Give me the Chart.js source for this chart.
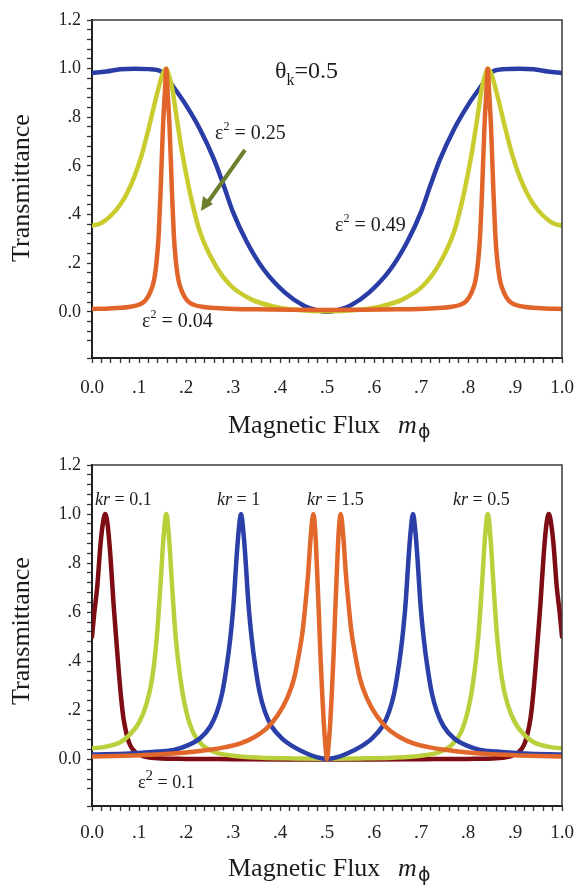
<!DOCTYPE html>
<html>
<head>
<meta charset="utf-8">
<script src="https://cdn.jsdelivr.net/npm/chart.js@4.4.1/dist/chart.umd.min.js"></script>
<style>
    html, body { margin: 0; padding: 0; background: #fff; }
    .box { position: absolute; left: 0; width: 577px; height: 443px; }
    #top { top: 0; }
    #bot { top: 443px; }
</style>
</head>
<body>
<div class="box" id="top"><canvas id="c1"></canvas></div>
<div class="box" id="bot"><canvas id="c2"></canvas></div>
<script>
// ---- top panel: theta_k = 0.5 ----
const topBlueX = [0, 0.03, 0.06, 0.09, 0.12, 0.15, 0.175, 0.2, 0.23, 0.26, 0.28, 0.3, 0.33, 0.365, 0.41, 0.45, 0.48, 0.5,
    0.52, 0.55, 0.59, 0.635, 0.67, 0.7, 0.72, 0.74, 0.77, 0.8, 0.825, 0.85, 0.88, 0.91, 0.94, 0.97, 1.0];
const topBlueY = [0.982, 0.988, 0.997, 1.0, 0.998, 0.985, 0.92, 0.85, 0.75, 0.625, 0.52, 0.41, 0.285, 0.175, 0.08, 0.026, 0.006, 0,
    0.006, 0.026, 0.08, 0.175, 0.285, 0.41, 0.52, 0.625, 0.75, 0.85, 0.92, 0.985, 0.998, 1.0, 0.997, 0.988, 0.982];

const topYellowX = [0, 0.02, 0.04, 0.06, 0.075, 0.09, 0.105, 0.12, 0.135, 0.145, 0.152, 0.158, 0.164, 0.171, 0.18, 0.19, 0.2, 0.213, 0.23, 0.26, 0.295, 0.34, 0.39, 0.44, 0.5,
    0.56, 0.61, 0.66, 0.705, 0.74, 0.77, 0.787, 0.8, 0.81, 0.82, 0.829, 0.836, 0.842, 0.848, 0.855, 0.865, 0.88, 0.895, 0.91, 0.925, 0.94, 0.96, 0.98, 1.0];
const topYellowY = [0.354, 0.365, 0.395, 0.44, 0.49, 0.555, 0.64, 0.75, 0.87, 0.945, 0.985, 1.0, 0.97, 0.915, 0.8, 0.675, 0.57, 0.45, 0.327, 0.2, 0.108, 0.05, 0.02, 0.007, 0.002,
    0.007, 0.02, 0.05, 0.108, 0.2, 0.327, 0.45, 0.57, 0.675, 0.8, 0.915, 0.97, 1.0, 0.985, 0.945, 0.87, 0.75, 0.64, 0.555, 0.49, 0.44, 0.395, 0.365, 0.354];

const topOrangeX = [0, 0.038, 0.078, 0.098, 0.113, 0.124, 0.132, 0.138, 0.142, 0.146, 0.151, 0.155, 0.158, 0.161, 0.165, 0.17, 0.174, 0.178, 0.184, 0.192, 0.203, 0.218, 0.238, 0.28, 0.35, 0.42, 0.5,
    0.58, 0.65, 0.72, 0.762, 0.782, 0.797, 0.808, 0.816, 0.822, 0.826, 0.83, 0.835, 0.839, 0.842, 0.845, 0.849, 0.854, 0.858, 0.862, 0.868, 0.876, 0.887, 0.902, 0.922, 0.962, 1.0];
const topOrangeY = [0.012, 0.014, 0.02, 0.028, 0.045, 0.081, 0.13, 0.217, 0.32, 0.5, 0.76, 0.9, 1.0, 0.9, 0.76, 0.5, 0.32, 0.217, 0.13, 0.081, 0.045, 0.028, 0.02, 0.014, 0.01, 0.008, 0.007,
    0.008, 0.01, 0.014, 0.02, 0.028, 0.045, 0.081, 0.13, 0.217, 0.32, 0.5, 0.76, 0.9, 1.0, 0.9, 0.76, 0.5, 0.32, 0.217, 0.13, 0.081, 0.045, 0.028, 0.02, 0.014, 0.012];

// ---- bottom panel: eps^2 = 0.1, different kr ----
const botRedX = [0, 0.005, 0.011, 0.018, 0.023, 0.028, 0.033, 0.039, 0.046, 0.052, 0.057, 0.062, 0.067, 0.074, 0.081, 0.092, 0.11, 0.14, 0.2, 0.3, 0.4, 0.5,
    0.6, 0.7, 0.8, 0.86, 0.89, 0.908, 0.919, 0.926, 0.933, 0.938, 0.943, 0.948, 0.954, 0.961, 0.967, 0.972, 0.977, 0.982, 0.989, 0.995, 1.0];
const botRedY = [0.5, 0.6, 0.7, 0.875, 0.96, 1.0, 0.96, 0.834, 0.63, 0.48, 0.358, 0.25, 0.167, 0.1, 0.058, 0.03, 0.012, 0.005, 0.002, 0.001, 0, 0,
    0, 0.001, 0.002, 0.005, 0.012, 0.03, 0.058, 0.1, 0.167, 0.25, 0.358, 0.48, 0.63, 0.834, 0.96, 1.0, 0.96, 0.875, 0.7, 0.6, 0.5];

const botGreenX = [0, 0.03, 0.06, 0.08, 0.1, 0.115, 0.128, 0.138, 0.146, 0.152, 0.158, 0.164, 0.17, 0.178, 0.188, 0.2, 0.215, 0.235, 0.26, 0.3, 0.36, 0.43, 0.5,
    0.57, 0.64, 0.7, 0.74, 0.765, 0.785, 0.8, 0.812, 0.822, 0.83, 0.836, 0.842, 0.848, 0.854, 0.862, 0.872, 0.885, 0.9, 0.92, 0.94, 0.97, 1.0];
const botGreenY = [0.045, 0.052, 0.07, 0.1, 0.15, 0.22, 0.33, 0.5, 0.72, 0.9, 1.0, 0.9, 0.72, 0.5, 0.33, 0.2, 0.11, 0.058, 0.03, 0.015, 0.007, 0.004, 0.003,
    0.004, 0.007, 0.015, 0.03, 0.058, 0.11, 0.2, 0.33, 0.5, 0.72, 0.9, 1.0, 0.9, 0.72, 0.5, 0.33, 0.22, 0.15, 0.1, 0.07, 0.052, 0.045];

const botBlueX = [0, 0.08, 0.14, 0.174, 0.202, 0.23, 0.252, 0.266, 0.277, 0.287, 0.294, 0.301, 0.308, 0.312, 0.317, 0.322, 0.326, 0.333, 0.34, 0.347, 0.357, 0.368, 0.382, 0.404, 0.43, 0.457, 0.48, 0.5,
    0.52, 0.543, 0.57, 0.596, 0.618, 0.632, 0.643, 0.653, 0.66, 0.667, 0.674, 0.678, 0.683, 0.688, 0.692, 0.699, 0.706, 0.713, 0.723, 0.734, 0.748, 0.77, 0.798, 0.826, 0.86, 0.92, 1.0];
const botBlueY = [0.02, 0.024, 0.032, 0.038, 0.056, 0.086, 0.135, 0.194, 0.27, 0.385, 0.49, 0.63, 0.834, 0.93, 1.0, 0.93, 0.834, 0.63, 0.49, 0.385, 0.27, 0.194, 0.135, 0.086, 0.05, 0.024, 0.008, 0.002,
    0.008, 0.024, 0.05, 0.086, 0.135, 0.194, 0.27, 0.385, 0.49, 0.63, 0.834, 0.93, 1.0, 0.93, 0.834, 0.63, 0.49, 0.385, 0.27, 0.194, 0.135, 0.086, 0.056, 0.038, 0.032, 0.024, 0.02];

const botOrangeX = [0, 0.07, 0.138, 0.2, 0.245, 0.285, 0.316, 0.345, 0.372, 0.395, 0.415, 0.43, 0.44, 0.448, 0.454, 0.46, 0.465, 0.471, 0.475, 0.479, 0.483, 0.486, 0.49, 0.493, 0.497, 0.5,
    0.503, 0.507, 0.51, 0.514, 0.517, 0.521, 0.525, 0.529, 0.535, 0.54, 0.546, 0.552, 0.56, 0.57, 0.585, 0.605, 0.628, 0.655, 0.684, 0.715, 0.755, 0.8, 0.862, 0.93, 1.0];
const botOrangeY = [0.012, 0.015, 0.02, 0.028, 0.038, 0.05, 0.065, 0.09, 0.127, 0.18, 0.249, 0.33, 0.426, 0.52, 0.63, 0.76, 0.9, 1.0, 0.93, 0.766, 0.58, 0.426, 0.26, 0.153, 0.05, 0,
    0.05, 0.153, 0.26, 0.426, 0.58, 0.766, 0.93, 1.0, 0.9, 0.76, 0.63, 0.52, 0.426, 0.33, 0.249, 0.18, 0.127, 0.09, 0.065, 0.05, 0.038, 0.028, 0.02, 0.015, 0.012];

const SERIF = '"Liberation Serif", "Times New Roman", serif';
const INK = '#1c1c1c';

const pts = (xs, ys) => xs.map((x, i) => ({ x: x, y: ys[i] }));
const line = (label, xs, ys, color) => ({ label, data: pts(xs, ys), borderColor: color, backgroundColor: color });

const xLabel = (value) => {
    const v = Math.round(value * 100);
    if (v % 10 !== 0) return '';
    if (v === 0) return '0.0';
    if (v === 100) return '1.0';
    return '.' + (v / 10);
};

const yLabel = (value) => {
    const v = Math.round(value * 100);
    if (v < 0 || v % 20 !== 0) return '';
    if (v === 0) return '0.0';
    if (v === 100) return '1.0';
    if (v === 120) return '1.2';
    return '.' + (v / 10);
};

// draws a run of text pieces left to right
function runs(ctx, x, y, parts) {
    parts.forEach(p => {
        ctx.font = p.font;
        ctx.fillText(p.t, x, y + (p.dy || 0));
        x += ctx.measureText(p.t).width;
    });
}

function drawTitles(ctx) {
    ctx.fillStyle = INK;
    ctx.save();
    ctx.translate(22, 188);
    ctx.rotate(-Math.PI / 2);
    ctx.textAlign = 'center';
    ctx.textBaseline = 'middle';
    ctx.font = '26px ' + SERIF;
    ctx.fillText('Transmittance', 0, 0);
    ctx.restore();

    ctx.textAlign = 'left';
    ctx.textBaseline = 'alphabetic';
    ctx.font = '26px ' + SERIF;
    ctx.fillText('Magnetic Flux', 228, 433);
    ctx.font = 'italic 26px ' + SERIF;
    ctx.fillText('m', 398, 433);
    ctx.font = '19px "DejaVu Sans", sans-serif';
    ctx.fillText('ϕ', 418, 438);
}

const framePlugin = {
    id: 'frame',
    afterDatasetsDraw(chart) {
        const { ctx, chartArea: a } = chart;
        ctx.save();
        ctx.strokeStyle = '#3a3a3a';
        ctx.lineWidth = 1.5;
        ctx.beginPath();
        ctx.moveTo(a.left, a.top);
        ctx.lineTo(a.right, a.top);
        ctx.lineTo(a.right, a.bottom);
        ctx.stroke();
        ctx.restore();
    }
};

function notesPlugin(draw) {
    return {
        id: 'notes',
        afterDraw(chart) {
            const ctx = chart.ctx;
            ctx.save();
            drawTitles(ctx);
            ctx.fillStyle = INK;
            ctx.textAlign = 'left';
            ctx.textBaseline = 'alphabetic';
            draw(ctx);
            ctx.restore();
        }
    };
}

function makeChart(id, datasets, cfg) {
    const tickFont = (size) => ({ family: SERIF, size: size });
    return new Chart(document.getElementById(id), {
        type: 'line',
        data: { datasets: datasets },
        options: {
            responsive: true,
            maintainAspectRatio: false,
            animation: false,
            layout: { padding: { top: cfg.top, right: 15, left: 0, bottom: 0 } },
            plugins: { legend: { display: false }, tooltip: { enabled: false } },
            elements: {
                point: { radius: 0 },
                line: { borderWidth: 4.5, cubicInterpolationMode: 'monotone', borderCapStyle: 'round', borderJoinStyle: 'round' }
            },
            scales: {
                x: {
                    type: 'linear',
                    min: 0,
                    max: 1,
                    afterFit: (s) => { s.height = cfg.xh; s.paddingRight = 0; s.paddingLeft = 0; },
                    ticks: { stepSize: 0.02, autoSkip: false, maxRotation: 0, padding: cfg.xpad, color: '#222', font: tickFont(19), callback: xLabel },
                    grid: { drawOnChartArea: false, drawTicks: true, tickLength: 5, tickColor: '#333', tickWidth: 1.3 },
                    border: { display: true, color: '#222', width: 2 }
                },
                y: {
                    type: 'linear',
                    min: -0.19,
                    max: 1.2,
                    afterFit: (s) => { s.width = 92; },
                    ticks: { stepSize: 0.04, autoSkip: false, padding: 6, color: '#222', font: tickFont(18), callback: yLabel },
                    grid: { drawOnChartArea: false, drawTicks: true, tickLength: 5, tickColor: '#333', tickWidth: 1.3 },
                    border: { display: true, color: '#222', width: 2 }
                }
            }
        },
        plugins: [framePlugin, notesPlugin(cfg.draw)]
    });
}

const F20 = '20px ' + SERIF;
const F12 = '12px ' + SERIF;
const eps = (val) => [{ t: 'ε', font: F20 }, { t: '2', font: F12, dy: -9 }, { t: ' = ' + val, font: F20 }];

makeChart('c1', [
    line('ε² = 0.04', topOrangeX, topOrangeY, '#e1652a'),
    line('ε² = 0.25', topYellowX, topYellowY, '#c8cc2e'),
    line('ε² = 0.49', topBlueX, topBlueY, '#2a3ca6')
], {
    top: 20, xh: 85, xpad: 14,
    draw: (ctx) => {
        runs(ctx, 275, 78, [
            { t: 'θ', font: '24px ' + SERIF },
            { t: 'k', font: '16px ' + SERIF, dy: 7 },
            { t: '=0.5', font: '24px ' + SERIF }
        ]);
        runs(ctx, 215, 139, eps('0.25'));
        runs(ctx, 335, 231, eps('0.49'));
        runs(ctx, 142, 327, eps('0.04'));

        // arrow pointing to the eps^2 = 0.25 curve
        ctx.strokeStyle = '#6b7f2c';
        ctx.fillStyle = '#6b7f2c';
        ctx.lineWidth = 4;
        ctx.beginPath();
        ctx.moveTo(245, 150);
        ctx.lineTo(208, 202);
        ctx.stroke();
        ctx.beginPath();
        ctx.moveTo(201, 211);
        ctx.lineTo(203, 196);
        ctx.lineTo(213, 204);
        ctx.closePath();
        ctx.fill();
    }
});

const F18 = '18px ' + SERIF;
const kr = (val) => [{ t: 'kr', font: 'italic ' + F18 }, { t: ' = ' + val, font: F18 }];

makeChart('c2', [
    line('kr = 1.5', botOrangeX, botOrangeY, '#e1682a'),
    line('kr = 1', botBlueX, botBlueY, '#2a3fa8'),
    line('kr = 0.5', botGreenX, botGreenY, '#b9cf3c'),
    line('kr = 0.1', botRedX, botRedY, '#7d0c14')
], {
    top: 22, xh: 80, xpad: 11,
    draw: (ctx) => {
        runs(ctx, 95, 62, kr('0.1'));
        runs(ctx, 217, 62, kr('1'));
        runs(ctx, 307, 62, kr('1.5'));
        runs(ctx, 453, 62, kr('0.5'));
        runs(ctx, 138, 345, [{ t: 'ε', font: F18 }, { t: '2', font: '15px ' + SERIF, dy: -8 }, { t: ' = 0.1', font: F18 }]);
    }
});
</script>
</body>
</html>
